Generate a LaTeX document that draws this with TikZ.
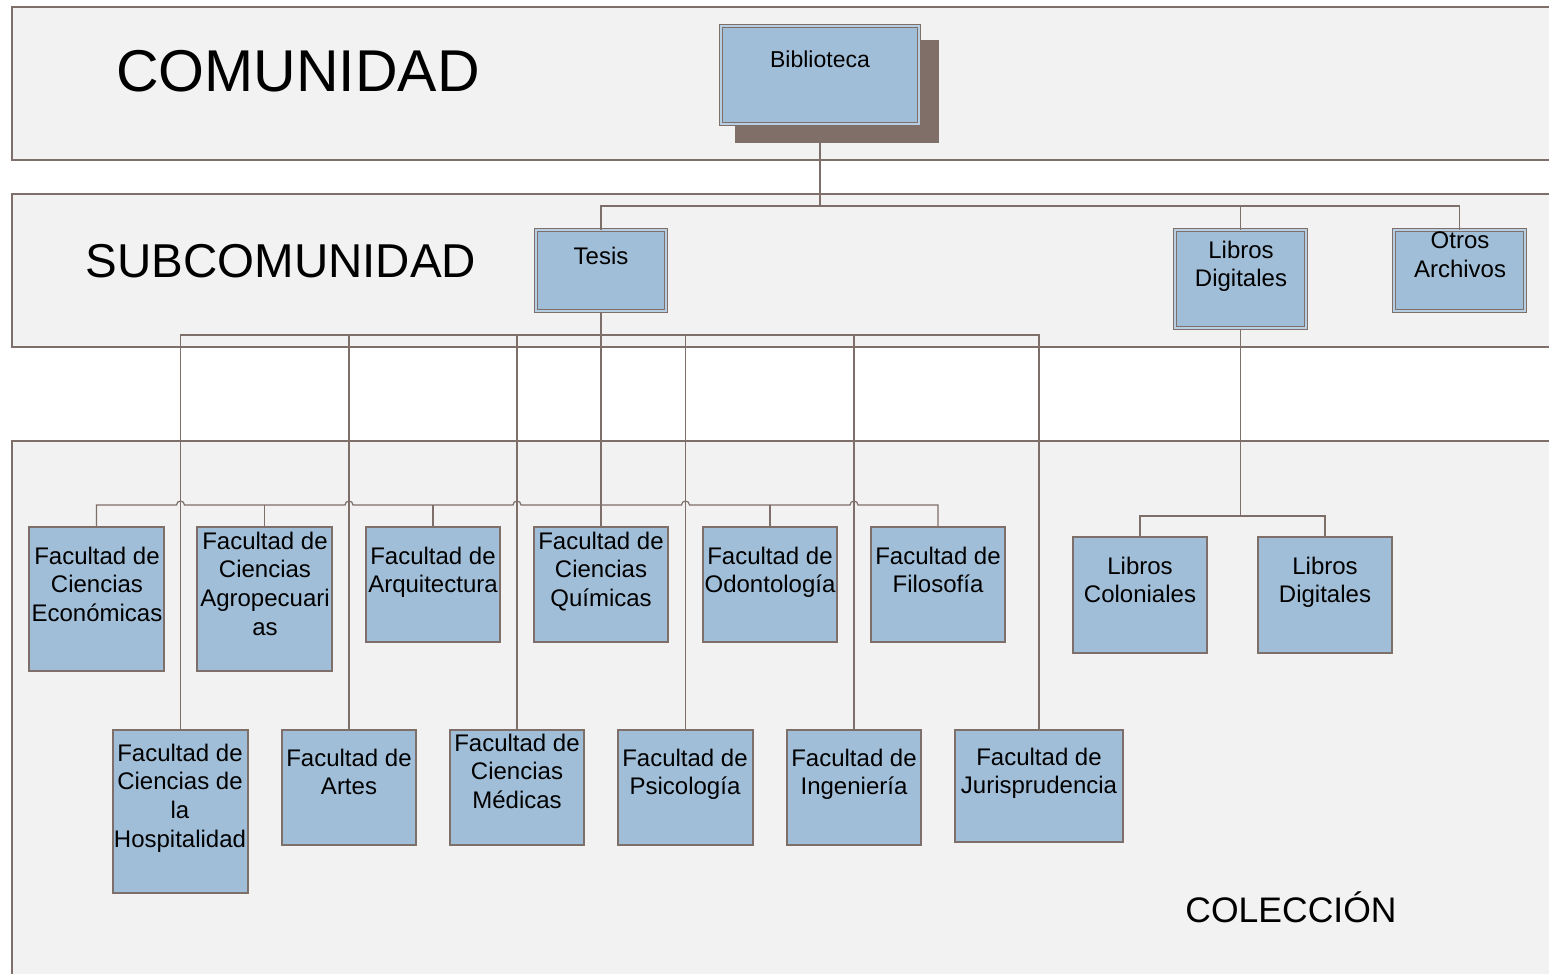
\documentclass[tikz,border=0pt]{standalone}
\usepackage{fontspec}
\setmainfont{Liberation Sans}
\usetikzlibrary{fit}
\definecolor{edge}{HTML}{7F6F6A}
\definecolor{boxfill}{HTML}{A1BED8}
\definecolor{bandfill}{HTML}{F2F2F2}
\definecolor{shadowc}{HTML}{806F69}
\tikzset{
  band/.style={fill=bandfill},
  bandline/.style={draw=edge, line width=1.3pt},
  box/.style={draw=edge, fill=boxfill, line width=1.2pt, inner sep=0pt, rectangle},
  dbox/.style={draw=edge, fill=boxfill, line width=1pt, double=boxfill!75!white, double distance=2pt, inner sep=0pt, rectangle},
  conn/.style={draw=edge, line width=1.2pt},
  txt/.style={font=\fontsize{24}{28.7}\selectfont, align=center, inner sep=0pt, anchor=north},
  title/.style={inner sep=0pt, anchor=base}
}
\begin{document}
\begin{tikzpicture}[x=1pt,y=-1pt]
\useasboundingbox (0,0) rectangle (1549,974);
% bands
\fill[band] (12,7) rectangle (1549,160);
\draw[bandline] (1549,7) -- (12,7) -- (12,160) -- (1549,160);
\fill[band] (12,194) rectangle (1549,347);
\draw[bandline] (1549,194) -- (12,194) -- (12,347) -- (1549,347);
\fill[band] (12,441) rectangle (1549,974);
\draw[bandline] (1549,441) -- (12,441) -- (12,974);
% titles
\node[title, font=\fontsize{59}{60}\selectfont] (tcom) at (298,92) {COMUNIDAD};
\node[title, font=\fontsize{47.5}{48}\selectfont] (tsub) at (281,277) {SUBCOMUNIDAD};
\node[title, font=\fontsize{35.5}{38}\selectfont] (tcol) at (1291,922) {COLECCIÓN};
% shadow and top boxes
\node[fill=shadowc, inner sep=0pt, fit={(735,40) (939,143)}] (sh) {};
\node[dbox, fit={(721,26) (919,124)}] (bib) {};
\node[dbox, fit={(536,230) (666,311)}] (tes) {};
\node[dbox, fit={(1175,230) (1306,328)}] (lib) {};
\node[dbox, fit={(1394,230) (1525,311)}] (otr) {};
% collection boxes
\node[box, fit={(29,527) (164,671)}] (e1) {};
\node[box, fit={(197,527) (332,671)}] (e2) {};
\node[box, fit={(366,527) (500,642)}] (e3) {};
\node[box, fit={(534,527) (668,642)}] (e4) {};
\node[box, fit={(703,527) (837,642)}] (e5) {};
\node[box, fit={(871,527) (1005,642)}] (e6) {};
\node[box, fit={(113,730) (248,893)}] (b1) {};
\node[box, fit={(282,730) (416,845)}] (b2) {};
\node[box, fit={(450,730) (584,845)}] (b3) {};
\node[box, fit={(618,730) (753,845)}] (b4) {};
\node[box, fit={(787,730) (921,845)}] (b5) {};
\node[box, fit={(955,730) (1123,842)}] (b6) {};
\node[box, fit={(1073,537) (1207,653)}] (lc) {};
\node[box, fit={(1258,537) (1392,653)}] (ld) {};
% connectors level 1
\draw[conn] (bib.south) -- (bib.south |- 0,206);
\draw[conn] (tes.north) |- (otr.north |- 0,206) -- (otr.north);
\draw[conn] (lib.north) -- (lib.north |- 0,206);
% Tesis to collections
\draw[conn] (tes.south) -- (tes.south |- 0,505) -- (e4.north);
\draw[conn] (b1.north) |- (b6.north |- 0,335) -- (b6.north);
\draw[conn] (b2.north) -- (b2.north |- 0,335);
\draw[conn] (b3.north) -- (b3.north |- 0,335);
\draw[conn] (b4.north) -- (b4.north |- 0,335);
\draw[conn] (b5.north) -- (b5.north |- 0,335);
\draw[conn] (e1.north) -- (e1.north |- 0,505)
  -- (176.5,505) arc[start angle=180, end angle=360, radius=4]
  -- (345,505) arc[start angle=180, end angle=360, radius=4]
  -- (513,505) arc[start angle=180, end angle=360, radius=4]
  -- (681.5,505) arc[start angle=180, end angle=360, radius=4]
  -- (850,505) arc[start angle=180, end angle=360, radius=4]
  -- (e6.north |- 0,505) -- (e6.north);
\draw[conn] (e2.north) -- (e2.north |- 0,505);
\draw[conn] (e3.north) -- (e3.north |- 0,505);
\draw[conn] (e5.north) -- (e5.north |- 0,505);
% Libros Digitales to collections
\draw[conn] (lib.south) -- (lib.south |- 0,516);
\draw[conn] (lc.north) |- (ld.north |- 0,516) -- (ld.north);
% texts
\node[txt, font=\fontsize{23}{28}\selectfont] (tbib) at (820,50.5) {Biblioteca};
\node[txt] (ttes) at (601,246.5) {Tesis};
\node[txt] (tlib) at (1241,240.5) {Libros\\Digitales};
\node[txt] (totr) at (1460,231.5) {Otros\\Archivos};
\node[txt] (te1) at (97,546.5) {Facultad de\\Ciencias\\Económicas};
\node[txt] (te2) at (265,531.5) {Facultad de\\Ciencias\\Agropecuari\\as};
\node[txt] (te3) at (433,546.5) {Facultad de\\Arquitectura};
\node[txt] (te4) at (601,531.5) {Facultad de\\Ciencias\\Químicas};
\node[txt] (te5) at (770,546.5) {Facultad de\\Odontología};
\node[txt] (te6) at (938,546.5) {Facultad de\\Filosofía};
\node[txt] (tb1) at (180,743.5) {Facultad de\\Ciencias de\\la\\Hospitalidad};
\node[txt] (tb2) at (349,748.5) {Facultad de\\Artes};
\node[txt] (tb3) at (517,733.5) {Facultad de\\Ciencias\\Médicas};
\node[txt] (tb4) at (685,748.5) {Facultad de\\Psicología};
\node[txt] (tb5) at (854,748.5) {Facultad de\\Ingeniería};
\node[txt] (tb6) at (1039,747.5) {Facultad de\\Jurisprudencia};
\node[txt] (tlc) at (1140,556.5) {Libros\\Coloniales};
\node[txt] (tld) at (1325,556.5) {Libros\\Digitales};
\end{tikzpicture}
\end{document}
